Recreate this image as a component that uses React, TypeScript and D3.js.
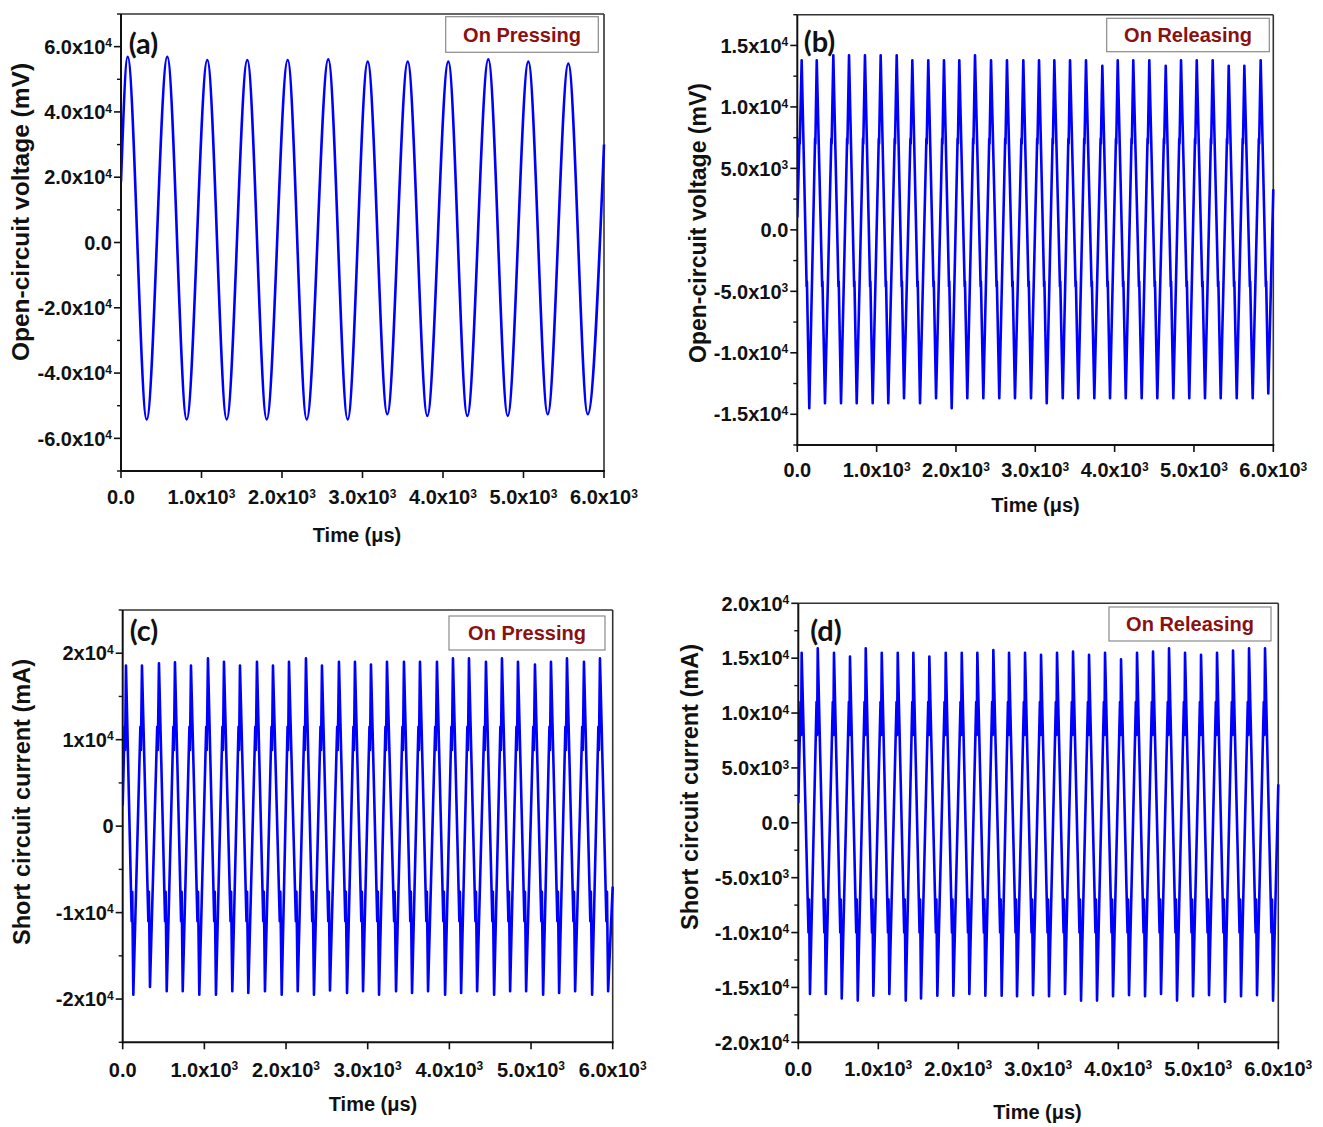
import React from 'react';
import * as d3 from 'd3';

type Pt = [number, number];

// ---------- shared time axis ----------
const timeDomain: [number, number] = [0, 6000];
const timeTicks = [0, 1000, 2000, 3000, 4000, 5000, 6000];
const timeTickLabels = ['0.0', '1.0x10^3', '2.0x10^3', '3.0x10^3', '4.0x10^3', '5.0x10^3', '6.0x10^3'];

// ---------- (a) open-circuit voltage, pressing (mV) ----------
const aPeakTimes = [83, 575, 1072, 1569, 2071, 2575, 3065, 3562, 4066, 4563, 5060, 5557];
const aPeakValues = [56900, 56900, 55900, 55900, 55900, 56100, 55400, 55400, 55400, 56100, 55400, 54800];
const aTroughTimes = [319, 816, 1313, 1810, 2307, 2816, 3308, 3805, 4302, 4804, 5301, 5798];
const aTroughValues = [-54200, -54200, -54200, -54200, -54200, -54200, -52600, -53100, -53100, -53100, -52600, -52600];
const aEdgePoints: Pt[] = [[0, 18600], [6000, 30000]];
const aYTicks = [-60000, -40000, -20000, 0, 20000, 40000, 60000];
const aYTickLabels = ['-6.0x10^4', '-4.0x10^4', '-2.0x10^4', '0.0', '2.0x10^4', '4.0x10^4', '6.0x10^4'];

// ---------- (b) open-circuit voltage, releasing (mV) ----------
const bPeakTimes = [55, 245, 454, 652, 853, 1051, 1253, 1450, 1651, 1849, 2042, 2240, 2442, 2643, 2849, 3047, 3240, 3438, 3639, 3845, 4039, 4235, 4437, 4644, 4837, 5035, 5236, 5438, 5635, 5841];
const bPeakValues = [13800, 13800, 14200, 14200, 14200, 14200, 14200, 13800, 13800, 13800, 13800, 14200, 13800, 13800, 13800, 13800, 13800, 13800, 13800, 13350, 13800, 13800, 13800, 13350, 13800, 13800, 13800, 13350, 13350, 13800];
const bTroughTimes = [151, 349, 551, 749, 950, 1147, 1345, 1547, 1749, 1946, 2143, 2345, 2546, 2744, 2946, 3144, 3346, 3542, 3744, 3942, 4140, 4341, 4538, 4740, 4941, 5139, 5337, 5539, 5740, 5937];
const bTroughValues = [-14500, -14100, -14100, -14100, -14100, -14100, -13700, -14100, -13700, -14500, -13700, -13700, -13700, -13700, -13700, -14100, -13700, -13700, -13700, -13700, -13700, -13700, -13700, -13700, -13700, -13700, -13700, -13700, -13700, -13300];
const bEdgePoints: Pt[] = [[0, 1000], [6000, 3300]];
const bRiseKink = [7400, 7000];
const bFallKink = [-4600, -4200];
const bYTicks = [-15000, -10000, -5000, 0, 5000, 10000, 15000];
const bYTickLabels = ['-1.5x10^4', '-1.0x10^4', '-5.0x10^3', '0.0', '5.0x10^3', '1.0x10^4', '1.5x10^4'];

// ---------- (c) short-circuit current, pressing (mA) ----------
const cPeakTimes = [40, 236, 444, 640, 836, 1044, 1240, 1436, 1644, 1840, 2036, 2244, 2440, 2648, 2844, 3040, 3236, 3444, 3640, 3848, 4044, 4240, 4448, 4644, 4840, 5048, 5244, 5440, 5648, 5844];
const cPeakValues = [18570, 18570, 18840, 18960, 18570, 19400, 19000, 18570, 19000, 18570, 19000, 19400, 18570, 19000, 19000, 18700, 19000, 19000, 19000, 19000, 19400, 19400, 19000, 19400, 19000, 18700, 19000, 19400, 19000, 19400];
const cTroughTimes = [130, 334, 539, 735, 938, 1142, 1342, 1538, 1742, 1947, 2143, 2342, 2538, 2747, 2943, 3139, 3347, 3543, 3739, 3948, 4144, 4340, 4548, 4744, 4940, 5148, 5344, 5540, 5748, 5944];
const cTroughValues = [-19500, -18600, -19100, -19100, -19500, -19500, -19100, -19300, -19100, -19500, -19100, -19500, -19000, -19300, -19100, -19500, -19100, -19300, -19100, -19500, -19300, -19100, -19500, -19100, -19100, -19500, -19300, -19100, -19500, -19100];
const cEdgePoints: Pt[] = [[0, 2400], [6000, -7000]];
const cRiseNotch = [11500, 8800];
const cFallNotch = [-11000, -7600];
const cYTicks = [-20000, -10000, 0, 10000, 20000];
const cYTickLabels = ['-2x10^4', '-1x10^4', '0', '1x10^4', '2x10^4'];

// ---------- (d) short-circuit current, releasing (mA) ----------
const dPeakTimes = [42, 243, 446, 646, 843, 1043, 1243, 1438, 1638, 1843, 2043, 2238, 2438, 2634, 2834, 3034, 3234, 3434, 3634, 3834, 4034, 4234, 4434, 4634, 4834, 5034, 5234, 5434, 5634, 5834];
const dPeakValues = [15500, 15900, 15500, 15150, 15900, 15500, 15500, 15500, 15150, 15500, 15500, 15500, 15750, 15500, 15500, 15300, 15500, 15600, 15300, 15500, 14900, 15500, 15600, 15900, 15500, 15300, 15500, 15700, 15900, 15900];
const dTroughTimes = [146, 343, 543, 743, 938, 1138, 1343, 1534, 1738, 1938, 2138, 2338, 2542, 2734, 2934, 3134, 3334, 3534, 3734, 3934, 4134, 4334, 4534, 4734, 4934, 5134, 5334, 5534, 5734, 5934];
const dTroughValues = [-15600, -15600, -16000, -16200, -15750, -15600, -16200, -16000, -15750, -15750, -15600, -15750, -15750, -15800, -15700, -15800, -15600, -16200, -16200, -15800, -15700, -15800, -15600, -16200, -15800, -15700, -16300, -15800, -15700, -16200];
const dEdgePoints: Pt[] = [[0, 1800], [6000, 3500]];
const dRiseNotch = [11000, 8000];
const dFallNotch = [-10000, -7000];
const dYTicks = [-20000, -15000, -10000, -5000, 0, 5000, 10000, 15000, 20000];
const dYTickLabels = ['-2.0x10^4', '-1.5x10^4', '-1.0x10^4', '-5.0x10^3', '0.0', '5.0x10^3', '1.0x10^4', '1.5x10^4', '2.0x10^4'];

// ---------- helpers ----------
const FONT = "'Liberation Sans', Arial, Helvetica, sans-serif";
const TAG_FONT = "Lato, 'Open Sans', sans-serif";
const LINE_COLOR = '#0000ff';
const LEGEND_COLOR = '#8b1111';

function zipPoints(times: number[], values: number[]): Pt[] {
  return times.map((t, i) => [t, values[i]] as Pt);
}

function buildWave(peakT: number[], peakV: number[], troughT: number[], troughV: number[], edges: Pt[]): Pt[] {
  const pts = [...edges, ...zipPoints(peakT, peakV), ...zipPoints(troughT, troughV)];
  return pts.sort((p, q) => p[0] - q[0]);
}

// Inserts the small ripple seen on every rising and falling edge.
function withNotches(pts: Pt[], rise: number[], fall: number[], gap: number): Pt[] {
  const out: Pt[] = [pts[0]];
  for (let i = 1; i < pts.length; i++) {
    const [t0, v0] = pts[i - 1];
    const [t1, v1] = pts[i];
    if (v1 > v0 && v0 < rise[0] && v1 > rise[0]) {
      const ta = t0 + ((rise[0] - v0) / (v1 - v0)) * (t1 - t0);
      out.push([ta, rise[0]], [ta + gap, rise[1]]);
    } else if (v1 < v0 && v0 > fall[0] && v1 < fall[0]) {
      const ta = t0 + ((v0 - fall[0]) / (v0 - v1)) * (t1 - t0);
      out.push([ta, fall[0]], [ta + gap, fall[1]]);
    }
    out.push(pts[i]);
  }
  return out;
}

function SupLabel({ x, yc, label, anchor, size = 20 }: { x: number; yc: number; label: string; anchor: 'start' | 'middle' | 'end'; size?: number }) {
  const [m, e] = label.split('^');
  return (
    <text x={x} y={yc + size * 0.36} textAnchor={anchor} fontFamily={FONT} fontWeight="bold" fontSize={size} fill="#111">
      {m}
      {e ? <tspan dy={-size * 0.33} fontSize={size * 0.6}>{e}</tspan> : null}
    </text>
  );
}

type PanelCfg = {
  key: string;
  left: number; right: number; top: number; bottom: number;
  yDomain: [number, number];
  yTicks: number[]; yTickLabels: string[]; yMinorStep: number;
  points: Pt[];
  curve: d3.CurveFactory;
  yTitle: string; yTitlePos: [number, number]; yTitleSize: number;
  xTitlePos: [number, number];
  xLabelOffset: number;
  tag: string; tagPos: [number, number];
  legend: string; legendBox: [number, number, number, number];
};

function Panel({ cfg }: { cfg: PanelCfg }) {
  const x = d3.scaleLinear().domain(timeDomain).range([cfg.left, cfg.right]);
  const y = d3.scaleLinear().domain(cfg.yDomain).range([cfg.bottom, cfg.top]);
  const line = d3.line<Pt>().x((d) => x(d[0])).y((d) => y(d[1])).curve(cfg.curve);
  const [ymin, ymax] = cfg.yDomain;
  const minor = d3.range(Math.ceil(ymin / cfg.yMinorStep) * cfg.yMinorStep, ymax + 1, cfg.yMinorStep)
    .filter((v) => !cfg.yTicks.includes(v));
  const clipId = `clip-${cfg.key}`;
  const [lx0, ly0, lx1, ly1] = cfg.legendBox;
  return (
    <g>
      <defs>
        <clipPath id={clipId}>
          <rect x={cfg.left} y={cfg.top - 2} width={cfg.right - cfg.left + 2} height={cfg.bottom - cfg.top + 2} />
        </clipPath>
      </defs>
      {/* frame */}
      <line x1={cfg.left} x2={cfg.right} y1={cfg.top} y2={cfg.top} stroke="#333" strokeWidth={1.6} />
      <line x1={cfg.right} x2={cfg.right} y1={cfg.top} y2={cfg.bottom} stroke="#333" strokeWidth={1.6} />
      <line x1={cfg.left} x2={cfg.left} y1={cfg.top} y2={cfg.bottom + 1} stroke="#111" strokeWidth={2} />
      <line x1={cfg.left - 1} x2={cfg.right + 1} y1={cfg.bottom} y2={cfg.bottom} stroke="#111" strokeWidth={2} />
      {/* y ticks */}
      {cfg.yTicks.map((v) => (
        <line key={`yt${v}`} x1={cfg.left - 7} x2={cfg.left} y1={y(v)} y2={y(v)} stroke="#111" strokeWidth={1.6} />
      ))}
      {minor.map((v) => (
        <line key={`ym${v}`} x1={cfg.left - 4} x2={cfg.left} y1={y(v)} y2={y(v)} stroke="#111" strokeWidth={1.4} />
      ))}
      {cfg.yTicks.map((v, i) => (
        <SupLabel key={`yl${v}`} x={cfg.left - 9} yc={y(v)} label={cfg.yTickLabels[i]} anchor="end" />
      ))}
      {/* x ticks */}
      {timeTicks.map((t) => (
        <line key={`xt${t}`} x1={x(t)} x2={x(t)} y1={cfg.bottom} y2={cfg.bottom + 7} stroke="#111" strokeWidth={1.6} />
      ))}
      {timeTicks.map((t, i) => (
        <SupLabel key={`xl${t}`} x={x(t)} yc={cfg.bottom + cfg.xLabelOffset} label={timeTickLabels[i]} anchor="middle" />
      ))}
      {/* titles */}
      <text x={cfg.xTitlePos[0]} y={cfg.xTitlePos[1] + 7} textAnchor="middle" fontFamily={FONT} fontWeight="bold" fontSize={20} fill="#111">
        Time (μs)
      </text>
      <text
        transform={`translate(${cfg.yTitlePos[0]},${cfg.yTitlePos[1]}) rotate(-90)`}
        textAnchor="middle"
        dy={cfg.yTitleSize * 0.35}
        fontFamily={FONT}
        fontWeight="bold"
        fontSize={cfg.yTitleSize}
        fill="#111"
      >
        {cfg.yTitle}
      </text>
      {/* waveform */}
      <path d={line(cfg.points) ?? ''} fill="none" stroke={LINE_COLOR} strokeWidth={2.6} strokeLinejoin="round" clipPath={`url(#${clipId})`} />
      {/* panel tag */}
      <text x={cfg.tagPos[0]} y={cfg.tagPos[1] + 10} textAnchor="middle" fontFamily={TAG_FONT} fontWeight="bold" fontSize={29} fill="#111">
        {cfg.tag}
      </text>
      {/* legend box */}
      <rect x={lx0} y={ly0} width={lx1 - lx0} height={ly1 - ly0} fill="#fff" stroke="#8a8a8a" strokeWidth={1.2} />
      <text x={(lx0 + lx1) / 2} y={(ly0 + ly1) / 2 + 7} textAnchor="middle" fontFamily={FONT} fontWeight="bold" fontSize={20} fill={LEGEND_COLOR}>
        {cfg.legend}
      </text>
    </g>
  );
}

const seriesA = buildWave(aPeakTimes, aPeakValues, aTroughTimes, aTroughValues, aEdgePoints);
const seriesB = withNotches(buildWave(bPeakTimes, bPeakValues, bTroughTimes, bTroughValues, bEdgePoints), bRiseKink, bFallKink, 4);
const seriesC = withNotches(buildWave(cPeakTimes, cPeakValues, cTroughTimes, cTroughValues, cEdgePoints), cRiseNotch, cFallNotch, 7);
const seriesD = withNotches(buildWave(dPeakTimes, dPeakValues, dTroughTimes, dTroughValues, dEdgePoints), dRiseNotch, dFallNotch, 7);

const panels: PanelCfg[] = [
  {
    key: 'a', left: 121, right: 604, top: 14, bottom: 471,
    yDomain: [-70000, 70000], yTicks: aYTicks, yTickLabels: aYTickLabels, yMinorStep: 10000,
    points: seriesA, curve: d3.curveMonotoneX,
    yTitle: 'Open-circuit voltage (mV)', yTitlePos: [20, 212], yTitleSize: 24.5,
    xTitlePos: [357, 535], xLabelOffset: 26,
    tag: '(a)', tagPos: [143.5, 44],
    legend: 'On Pressing', legendBox: [445.7, 16.7, 598.3, 52.3],
  },
  {
    key: 'b', left: 797.3, right: 1273.3, top: 14.7, bottom: 445,
    yDomain: [-17500, 17500], yTicks: bYTicks, yTickLabels: bYTickLabels, yMinorStep: 2500,
    points: seriesB, curve: d3.curveLinear,
    yTitle: 'Open-circuit voltage (mV)', yTitlePos: [698, 223], yTitleSize: 23,
    xTitlePos: [1035.5, 505], xLabelOffset: 25,
    tag: '(b)', tagPos: [819.5, 42],
    legend: 'On Releasing', legendBox: [1106.7, 18.3, 1269.3, 51.7],
  },
  {
    key: 'c', left: 122.7, right: 612.7, top: 610, bottom: 1042.3,
    yDomain: [-25000, 25000], yTicks: cYTicks, yTickLabels: cYTickLabels, yMinorStep: 5000,
    points: seriesC, curve: d3.curveLinear,
    yTitle: 'Short circuit current (mA)', yTitlePos: [22, 802], yTitleSize: 23.5,
    xTitlePos: [373, 1104], xLabelOffset: 27,
    tag: '(c)', tagPos: [144, 631],
    legend: 'On Pressing', legendBox: [449, 616, 605, 650],
  },
  {
    key: 'd', left: 798.3, right: 1278.3, top: 603.3, bottom: 1042.3,
    yDomain: [-20000, 20000], yTicks: dYTicks, yTickLabels: dYTickLabels, yMinorStep: 2500,
    points: seriesD, curve: d3.curveLinear,
    yTitle: 'Short circuit current (mA)', yTitlePos: [690, 787], yTitleSize: 23.5,
    xTitlePos: [1037.5, 1112], xLabelOffset: 26,
    tag: '(d)', tagPos: [826, 631],
    legend: 'On Releasing', legendBox: [1109, 607, 1271, 641],
  },
];

export default function App() {
  return (
    <svg
      width={1323}
      height={1127}
      viewBox="0 0 1323 1127"
      style={{ position: 'absolute', left: 0, top: 0, background: '#fff' }}
    >
      <rect x={0} y={0} width={1323} height={1127} fill="#fff" />
      {panels.map((p) => (
        <Panel key={p.key} cfg={p} />
      ))}
    </svg>
  );
}
